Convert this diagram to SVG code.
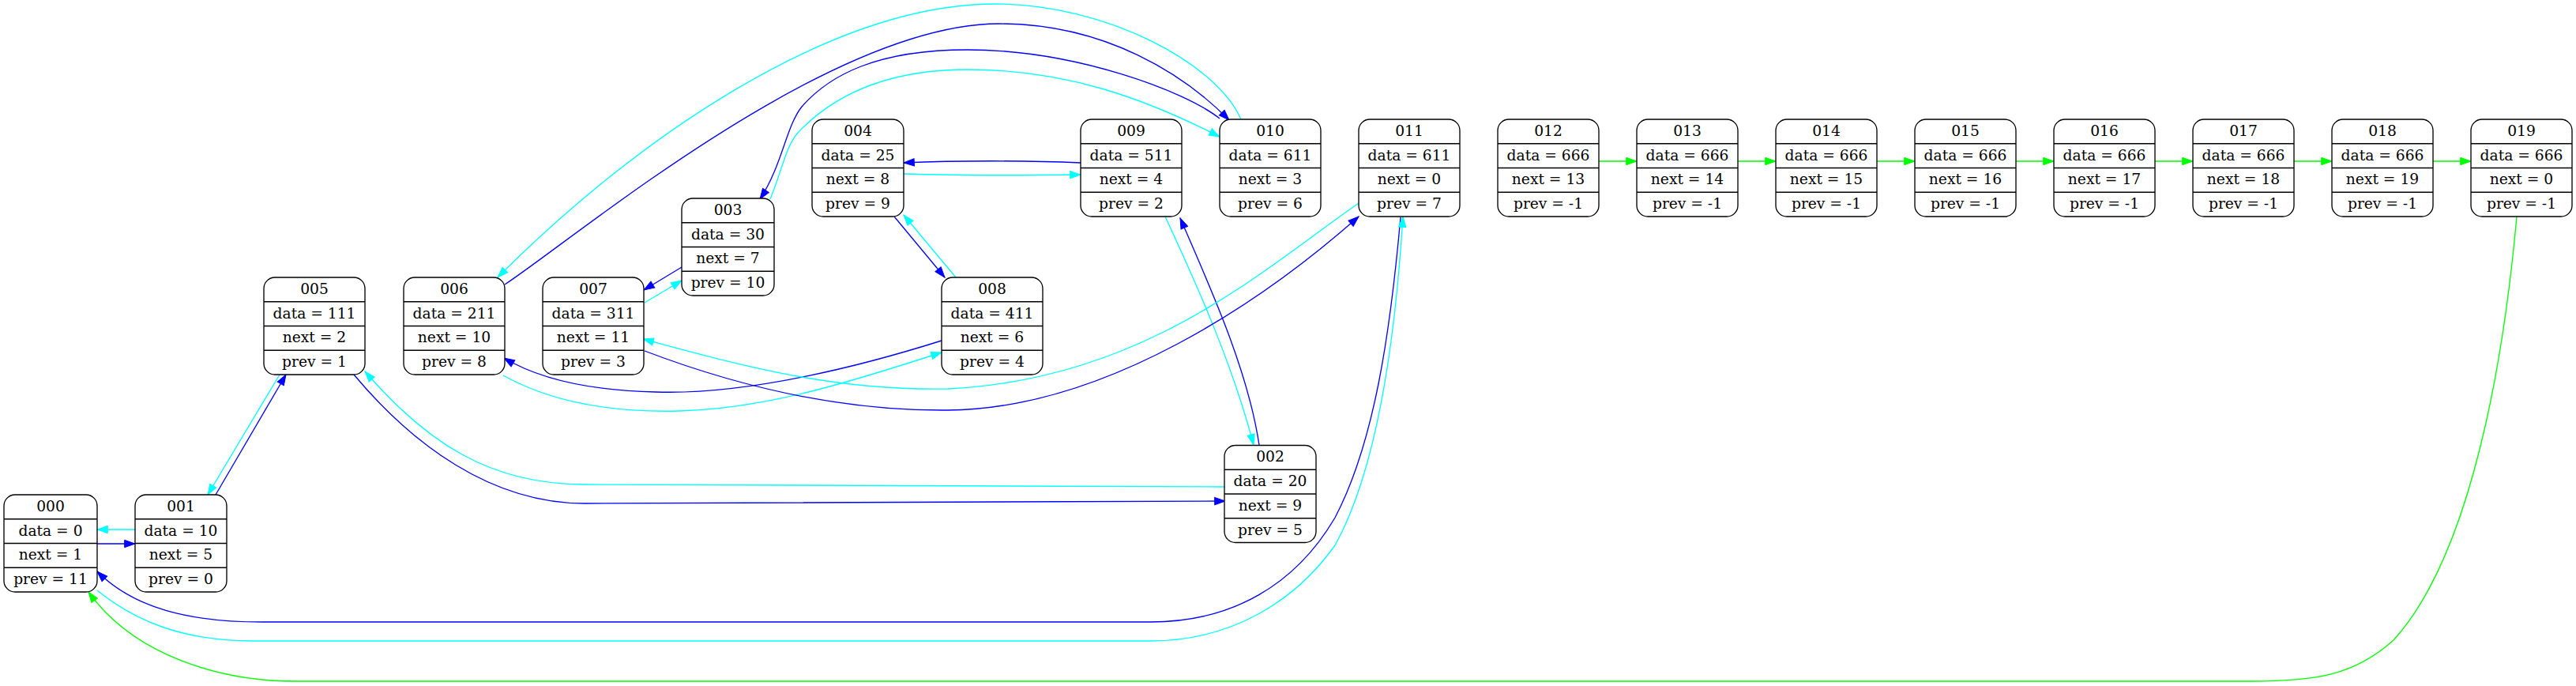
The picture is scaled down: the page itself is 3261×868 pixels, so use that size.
<svg xmlns="http://www.w3.org/2000/svg" width="3261" height="868" viewBox="0 0 3261 868">
<style>
.box{fill:#fff;stroke:#000;stroke-width:1.33}
.sep{stroke:#000;stroke-width:1.33}
text{font-family:"DejaVu Serif","Liberation Serif",serif;font-size:18.67px;fill:#000;text-anchor:middle}
.e{fill:none;stroke-width:1.33}
.b{stroke:#0000ff}
.c{stroke:#00ffff}
.g{stroke:#00ff00}
</style>
<defs>
<marker id="mb" markerWidth="14" markerHeight="10" refX="13.3" refY="4.67" orient="auto" markerUnits="userSpaceOnUse" overflow="visible"><path d="M0,0 L13.3,4.67 L0,9.33 z" fill="#0000ff" stroke="#0000ff" stroke-width="1"/></marker>
<marker id="mc" markerWidth="14" markerHeight="10" refX="13.3" refY="4.67" orient="auto" markerUnits="userSpaceOnUse" overflow="visible"><path d="M0,0 L13.3,4.67 L0,9.33 z" fill="#00ffff" stroke="#00ffff" stroke-width="1"/></marker>
<marker id="mg" markerWidth="14" markerHeight="10" refX="13.3" refY="4.67" orient="auto" markerUnits="userSpaceOnUse" overflow="visible"><path d="M0,0 L13.3,4.67 L0,9.33 z" fill="#00ff00" stroke="#00ff00" stroke-width="1"/></marker>
</defs>
<rect width="3261" height="868" fill="#fff"/>
<g id="edges">
<path class="e b" marker-end="url(#mb)" d="M123,688 L171,688"/>
<path class="e c" marker-end="url(#mc)" d="M171,670 L123,670"/>
<path class="e b" marker-end="url(#mb)" d="M273,626 L362,474"/>
<path class="e c" marker-end="url(#mc)" d="M354,474 L263,626"/>
<path class="e b" marker-end="url(#mb)" d="M448,474 C520,560 620,637 740,637 C1100,637 1400,635 1551,634"/>
<path class="e c" marker-end="url(#mc)" d="M1550,616 C1400,614 1100,613 740,613 C620,613 540,560 462,470"/>
<path class="e b" marker-end="url(#mb)" d="M1594,563 C1580,470 1535,370 1494,276"/>
<path class="e c" marker-end="url(#mc)" d="M1475,274 C1515,360 1560,460 1587,563"/>
<path class="e b" marker-end="url(#mb)" d="M1368,206 C1300,203 1210,203 1144,206"/>
<path class="e c" marker-end="url(#mc)" d="M1144,220 C1210,222 1300,222 1368,221"/>
<path class="e b" marker-end="url(#mb)" d="M1132,274 L1196,351"/>
<path class="e c" marker-end="url(#mc)" d="M1210,351 L1144,272"/>
<path class="e b" marker-end="url(#mb)" d="M863,338 L815,367"/>
<path class="e c" marker-end="url(#mc)" d="M816,383 L863,355"/>
<path class="e b" marker-end="url(#mb)" d="M1192,431 C1100,460 950,500 830,496 C740,494 680,478 638,453"/>
<path class="e c" marker-end="url(#mc)" d="M637,475 C700,510 780,522 860,520 C980,517 1100,475 1192,446"/>
<path class="e b" marker-end="url(#mb)" d="M639,360 C730,300 1050,30 1265,30 C1400,30 1500,95 1556,152"/>
<path class="e c" marker-end="url(#mc)" d="M1571,151 C1540,80 1400,5 1260,5 C1050,5 800,180 630,351"/>
<path class="e b" marker-end="url(#mb)" d="M1544,150 C1500,115 1360,63 1225,63 C1110,63 1050,95 1015,135 C995,160 990,210 962,252"/>
<path class="e c" marker-end="url(#mc)" d="M975,252 C990,215 995,185 1010,168 C1060,115 1130,88 1225,88 C1350,88 1450,125 1544,173"/>
<path class="e b" marker-end="url(#mb)" d="M816,444 C950,495 1080,520 1200,519 C1400,517 1600,380 1720,274"/>
<path class="e c" marker-end="url(#mc)" d="M1720,257 C1600,340 1450,480 1200,492 C1050,495 930,460 814,429"/>
<path class="e b" marker-end="url(#mb)" d="M1773,275 C1760,420 1740,560 1690,655 C1640,740 1560,787 1456,787 L333,787 C240,787 170,770 123,723"/>
<path class="e c" marker-end="url(#mc)" d="M123,747 C170,785 230,811 320,811 L1456,811 C1560,811 1640,760 1690,690 C1740,600 1765,450 1776,274"/>
<path class="e g" marker-end="url(#mg)" d="M2024,204 L2072,204"/>
<path class="e g" marker-end="url(#mg)" d="M2200,204 L2248,204"/>
<path class="e g" marker-end="url(#mg)" d="M2376,204 L2424,204"/>
<path class="e g" marker-end="url(#mg)" d="M2552,204 L2600,204"/>
<path class="e g" marker-end="url(#mg)" d="M2728,204 L2776,204"/>
<path class="e g" marker-end="url(#mg)" d="M2904,204 L2952,204"/>
<path class="e g" marker-end="url(#mg)" d="M3080,204 L3128,204"/>
<path class="e g" marker-end="url(#mg)" d="M3186,274 C3170,450 3130,700 3030,810 C2980,855 2930,862 2850,862 L374,862 C280,862 170,830 112,749"/>
</g>
<g id="n000" transform="translate(5,626)"><rect class="box" width="118" height="123" rx="14"/><path class="sep" d="M0,30.75H118M0,61.5H118M0,92.25H118"/><text x="59" y="20.9">000</text><text x="59" y="51.6">data = 0</text><text x="59" y="82.4">next = 1</text><text x="59" y="113.1">prev = 11</text></g>
<g id="n001" transform="translate(171,626)"><rect class="box" width="116" height="123" rx="14"/><path class="sep" d="M0,30.75H116M0,61.5H116M0,92.25H116"/><text x="58" y="20.9">001</text><text x="58" y="51.6">data = 10</text><text x="58" y="82.4">next = 5</text><text x="58" y="113.1">prev = 0</text></g>
<g id="n002" transform="translate(1550,563.5)"><rect class="box" width="116" height="123" rx="14"/><path class="sep" d="M0,30.75H116M0,61.5H116M0,92.25H116"/><text x="58" y="20.9">002</text><text x="58" y="51.6">data = 20</text><text x="58" y="82.4">next = 9</text><text x="58" y="113.1">prev = 5</text></g>
<g id="n003" transform="translate(863,251)"><rect class="box" width="117" height="123" rx="14"/><path class="sep" d="M0,30.75H117M0,61.5H117M0,92.25H117"/><text x="58.5" y="20.9">003</text><text x="58.5" y="51.6">data = 30</text><text x="58.5" y="82.4">next = 7</text><text x="58.5" y="113.1">prev = 10</text></g>
<g id="n004" transform="translate(1028,151)"><rect class="box" width="116" height="123" rx="14"/><path class="sep" d="M0,30.75H116M0,61.5H116M0,92.25H116"/><text x="58" y="20.9">004</text><text x="58" y="51.6">data = 25</text><text x="58" y="82.4">next = 8</text><text x="58" y="113.1">prev = 9</text></g>
<g id="n005" transform="translate(334,351)"><rect class="box" width="128" height="123" rx="14"/><path class="sep" d="M0,30.75H128M0,61.5H128M0,92.25H128"/><text x="64" y="20.9">005</text><text x="64" y="51.6">data = 111</text><text x="64" y="82.4">next = 2</text><text x="64" y="113.1">prev = 1</text></g>
<g id="n006" transform="translate(511,351)"><rect class="box" width="128" height="123" rx="14"/><path class="sep" d="M0,30.75H128M0,61.5H128M0,92.25H128"/><text x="64" y="20.9">006</text><text x="64" y="51.6">data = 211</text><text x="64" y="82.4">next = 10</text><text x="64" y="113.1">prev = 8</text></g>
<g id="n007" transform="translate(687,351)"><rect class="box" width="128" height="123" rx="14"/><path class="sep" d="M0,30.75H128M0,61.5H128M0,92.25H128"/><text x="64" y="20.9">007</text><text x="64" y="51.6">data = 311</text><text x="64" y="82.4">next = 11</text><text x="64" y="113.1">prev = 3</text></g>
<g id="n008" transform="translate(1192,351)"><rect class="box" width="128" height="123" rx="14"/><path class="sep" d="M0,30.75H128M0,61.5H128M0,92.25H128"/><text x="64" y="20.9">008</text><text x="64" y="51.6">data = 411</text><text x="64" y="82.4">next = 6</text><text x="64" y="113.1">prev = 4</text></g>
<g id="n009" transform="translate(1368,151)"><rect class="box" width="128" height="123" rx="14"/><path class="sep" d="M0,30.75H128M0,61.5H128M0,92.25H128"/><text x="64" y="20.9">009</text><text x="64" y="51.6">data = 511</text><text x="64" y="82.4">next = 4</text><text x="64" y="113.1">prev = 2</text></g>
<g id="n010" transform="translate(1544,151)"><rect class="box" width="128" height="123" rx="14"/><path class="sep" d="M0,30.75H128M0,61.5H128M0,92.25H128"/><text x="64" y="20.9">010</text><text x="64" y="51.6">data = 611</text><text x="64" y="82.4">next = 3</text><text x="64" y="113.1">prev = 6</text></g>
<g id="n011" transform="translate(1720,151)"><rect class="box" width="128" height="123" rx="14"/><path class="sep" d="M0,30.75H128M0,61.5H128M0,92.25H128"/><text x="64" y="20.9">011</text><text x="64" y="51.6">data = 611</text><text x="64" y="82.4">next = 0</text><text x="64" y="113.1">prev = 7</text></g>
<g id="n012" transform="translate(1896,151)"><rect class="box" width="128" height="123" rx="14"/><path class="sep" d="M0,30.75H128M0,61.5H128M0,92.25H128"/><text x="64" y="20.9">012</text><text x="64" y="51.6">data = 666</text><text x="64" y="82.4">next = 13</text><text x="64" y="113.1">prev = -1</text></g>
<g id="n013" transform="translate(2072,151)"><rect class="box" width="128" height="123" rx="14"/><path class="sep" d="M0,30.75H128M0,61.5H128M0,92.25H128"/><text x="64" y="20.9">013</text><text x="64" y="51.6">data = 666</text><text x="64" y="82.4">next = 14</text><text x="64" y="113.1">prev = -1</text></g>
<g id="n014" transform="translate(2248,151)"><rect class="box" width="128" height="123" rx="14"/><path class="sep" d="M0,30.75H128M0,61.5H128M0,92.25H128"/><text x="64" y="20.9">014</text><text x="64" y="51.6">data = 666</text><text x="64" y="82.4">next = 15</text><text x="64" y="113.1">prev = -1</text></g>
<g id="n015" transform="translate(2424,151)"><rect class="box" width="128" height="123" rx="14"/><path class="sep" d="M0,30.75H128M0,61.5H128M0,92.25H128"/><text x="64" y="20.9">015</text><text x="64" y="51.6">data = 666</text><text x="64" y="82.4">next = 16</text><text x="64" y="113.1">prev = -1</text></g>
<g id="n016" transform="translate(2600,151)"><rect class="box" width="128" height="123" rx="14"/><path class="sep" d="M0,30.75H128M0,61.5H128M0,92.25H128"/><text x="64" y="20.9">016</text><text x="64" y="51.6">data = 666</text><text x="64" y="82.4">next = 17</text><text x="64" y="113.1">prev = -1</text></g>
<g id="n017" transform="translate(2776,151)"><rect class="box" width="128" height="123" rx="14"/><path class="sep" d="M0,30.75H128M0,61.5H128M0,92.25H128"/><text x="64" y="20.9">017</text><text x="64" y="51.6">data = 666</text><text x="64" y="82.4">next = 18</text><text x="64" y="113.1">prev = -1</text></g>
<g id="n018" transform="translate(2952,151)"><rect class="box" width="128" height="123" rx="14"/><path class="sep" d="M0,30.75H128M0,61.5H128M0,92.25H128"/><text x="64" y="20.9">018</text><text x="64" y="51.6">data = 666</text><text x="64" y="82.4">next = 19</text><text x="64" y="113.1">prev = -1</text></g>
<g id="n019" transform="translate(3128,151)"><rect class="box" width="128" height="123" rx="14"/><path class="sep" d="M0,30.75H128M0,61.5H128M0,92.25H128"/><text x="64" y="20.9">019</text><text x="64" y="51.6">data = 666</text><text x="64" y="82.4">next = 0</text><text x="64" y="113.1">prev = -1</text></g>
</svg>
